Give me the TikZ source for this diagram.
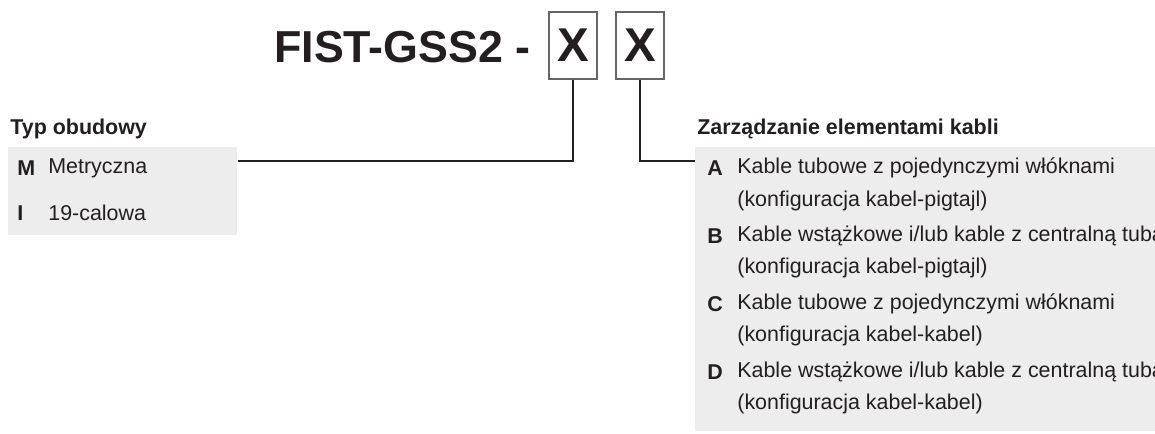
\documentclass[tikz,border=0pt]{standalone}
\usepackage{fontspec}
\setmainfont{Liberation Sans}
\definecolor{panelgray}{HTML}{EDEDED}
\definecolor{txt}{HTML}{231F20}

\begin{document}
\begin{tikzpicture}[x=0.02cm,y=-0.02cm,
    every node/.style={text=txt,inner sep=0pt},
    code/.style={font=\fontsize{25.5}{30}\selectfont\bfseries},
    xbox/.style={draw=black!60,line width=0.6pt,minimum width=48*0.02cm,minimum height=67*0.02cm,font=\fontsize{27}{30}\selectfont\bfseries},
    head/.style={anchor=west,font=\fontsize{12.2}{14}\selectfont\bfseries},
    item/.style={anchor=west,font=\fontsize{12.2}{14}\selectfont},
    key/.style={anchor=west,font=\fontsize{12.2}{14}\selectfont\bfseries},
    panel/.style={fill=panelgray,anchor=north west},
    link/.style={draw=txt,line width=0.7pt}]
  \useasboundingbox (0,0) rectangle (1155,433);

  % grey panels
  \node[panel,minimum width=229*0.02cm,minimum height=88*0.02cm] (lpanel) at (8,147) {};
  \node[panel,minimum width=460*0.02cm,minimum height=284*0.02cm] (rpanel) at (695,147) {};

  % code
  \node[code,anchor=base east] (name) at (531,62) {FIST-GSS2 -};
  \node[xbox] (x1) at (573,45.5) {X};
  \node[xbox] (x2) at (640,45.5) {X};

  % left column
  \node[head] (lhead) at (10,129) {Typ obudowy};
  \node[key] (kM) at (17,168) {M};
  \node[item] (tM) at (48,168) {Metryczna};
  \node[key] (kI) at (17,213) {I};
  \node[item] (tI) at (48,213) {19-calowa};

  % right column
  \node[head] (rhead) at (697,129) {Zarządzanie elementami kabli};
  \node[key] (kA) at (707,168) {A};
  \node[item] (tA) at (737,168) {Kable tubowe z pojedynczymi włóknami};
  \node[item] (tA2) at (737,201) {(konfiguracja kabel-pigtajl)};
  \node[key] (kB) at (707,236) {B};
  \node[item] (tB) at (737,236) {Kable wstążkowe i/lub kable z centralną tubą};
  \node[item] (tB2) at (737,268) {(konfiguracja kabel-pigtajl)};
  \node[key] (kC) at (707,304) {C};
  \node[item] (tC) at (737,304) {Kable tubowe z pojedynczymi włóknami};
  \node[item] (tC2) at (737,336) {(konfiguracja kabel-kabel)};
  \node[key] (kD) at (707,372) {D};
  \node[item] (tD) at (737,372) {Kable wstążkowe i/lub kable z centralną tubą};
  \node[item] (tD2) at (737,404) {(konfiguracja kabel-kabel)};

  % connectors
  \coordinate (lhook) at (lpanel.north east |- 0,161);
  \coordinate (rhook) at (rpanel.north west |- 0,161);
  \draw[link] (x1.south) |- (lhook);
  \draw[link] (x2.south) |- (rhook);
\end{tikzpicture}
\end{document}
